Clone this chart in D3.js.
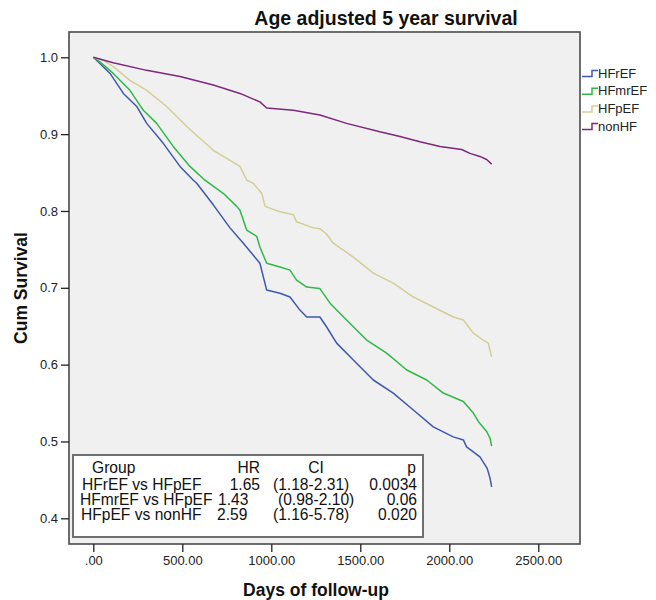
<!DOCTYPE html>
<html>
<head>
<meta charset="utf-8">
<script src="https://cdn.jsdelivr.net/npm/d3@7"></script>
<style>
  html, body { margin: 0; padding: 0; background: #ffffff; }
  svg { display: block; font-family: "Liberation Sans", Arial, sans-serif; }
</style>
</head>
<body>
<svg id="chart" width="656" height="600"></svg>
<script>
// Kaplan-Meier style survival estimates, [day, cumulative survival]
const hfref = [[0,1.0],[37,0.992],[94,0.979],[169,0.953],[244,0.936],[300,0.914],[393,0.888],[487,0.858],[562,0.840],[581,0.836],[674,0.808],[768,0.778],[843,0.758],[936,0.732],[974,0.697],[1049,0.693],[1105,0.688],[1161,0.671],[1199,0.662],[1273,0.662],[1311,0.649],[1367,0.628],[1461,0.606],[1573,0.580],[1685,0.563],[1798,0.541],[1910,0.519],[2022,0.506],[2079,0.502],[2097,0.493],[2172,0.480],[2213,0.465],[2229,0.452],[2238,0.441]];
const hfmref = [[0,1.0],[37,0.994],[112,0.979],[206,0.957],[281,0.931],[356,0.914],[449,0.884],[543,0.858],[627,0.840],[730,0.823],[806,0.806],[824,0.801],[862,0.775],[918,0.767],[936,0.753],[974,0.732],[1049,0.727],[1105,0.723],[1142,0.710],[1199,0.701],[1273,0.699],[1330,0.680],[1423,0.658],[1536,0.632],[1648,0.615],[1761,0.593],[1873,0.580],[1966,0.563],[2079,0.552],[2135,0.537],[2163,0.526],[2210,0.513],[2229,0.504],[2238,0.494]];
const hfpef = [[0,1.0],[56,0.996],[112,0.988],[206,0.970],[300,0.957],[412,0.936],[525,0.910],[674,0.879],[824,0.858],[862,0.840],[899,0.836],[946,0.823],[965,0.806],[1049,0.799],[1124,0.795],[1142,0.786],[1236,0.778],[1273,0.777],[1310,0.770],[1348,0.758],[1461,0.740],[1573,0.719],[1685,0.706],[1798,0.688],[1910,0.675],[2022,0.662],[2079,0.658],[2135,0.641],[2191,0.632],[2219,0.628],[2238,0.610]];
const nonhf = [[0,1.0],[112,0.993],[300,0.983],[487,0.975],[674,0.964],[824,0.953],[936,0.942],[974,0.934],[1124,0.931],[1273,0.925],[1423,0.914],[1610,0.903],[1723,0.897],[1835,0.890],[1948,0.884],[2069,0.880],[2116,0.875],[2172,0.871],[2210,0.867],[2238,0.861]];

const groupNames = ["HFrEF", "HFmrEF", "HFpEF", "nonHF"];
const groupColors = ["#3e58ac", "#2eb848", "#d3ce97", "#7c287d"];

const xTicks = [0, 500, 1000, 1500, 2000, 2500];
const yTicks = [0.4, 0.5, 0.6, 0.7, 0.8, 0.9, 1.0];

// Hazard ratio table
const tableHeader = ["Group", "HR", "CI", "p"];
const tableGroups = ["HFrEF vs HFpEF", "HFmrEF vs HFpEF", "HFpEF vs nonHF"];
const tableHR = ["1.65", "1.43", "2.59"];
const tableCI = ["(1.18-2.31)", "(0.98-2.10)", "(1.16-5.78)"];
const tableP = ["0.0034", "0.06", "0.020"];

const series = [hfref, hfmref, hfpef, nonhf];

const svg = d3.select("#chart");

const frame = { left: 69, top: 32, right: 580, bottom: 544 };
const x = d3.scaleLinear().domain([0, 2500]).range([93.3, 538.3]);
const y = d3.scaleLinear().domain([0.4, 1.0]).range([518.3, 57.3]);

// Title
svg.append("text")
  .attr("x", 386).attr("y", 25)
  .attr("text-anchor", "middle")
  .attr("font-size", 19.5).attr("font-weight", "bold")
  .attr("fill", "#111")
  .text("Age adjusted 5 year survival");

// Plot area
svg.append("rect")
  .attr("x", frame.left).attr("y", frame.top)
  .attr("width", frame.right - frame.left)
  .attr("height", frame.bottom - frame.top)
  .attr("fill", "#f0f0f0")
  .attr("stroke", "#4a4a4a").attr("stroke-width", 1.6);

// Axes
const xAxis = svg.append("g")
  .attr("transform", `translate(0,${frame.bottom})`)
  .call(d3.axisBottom(x).tickValues(xTicks).tickSize(8).tickPadding(4)
    .tickFormat(d => d === 0 ? ".00" : d.toFixed(2)));
xAxis.select(".domain").remove();
xAxis.selectAll("line").attr("stroke", "#222").attr("stroke-width", 1.3);
xAxis.selectAll("text").attr("font-size", 13).attr("fill", "#222")
  .attr("font-family", "'Liberation Sans', Arial, sans-serif");

const yAxis = svg.append("g")
  .attr("transform", `translate(${frame.left},0)`)
  .call(d3.axisLeft(y).tickValues(yTicks).tickSize(8).tickPadding(3)
    .tickFormat(d => d.toFixed(1)));
yAxis.select(".domain").remove();
yAxis.selectAll("line").attr("stroke", "#222").attr("stroke-width", 1.3);
yAxis.selectAll("text").attr("font-size", 13).attr("fill", "#222")
  .attr("font-family", "'Liberation Sans', Arial, sans-serif");

// Axis titles
svg.append("text")
  .attr("x", 316).attr("y", 596)
  .attr("text-anchor", "middle")
  .attr("font-size", 17.5).attr("font-weight", "bold").attr("fill", "#111")
  .text("Days of follow-up");

svg.append("text")
  .attr("transform", "translate(27,288) rotate(-90)")
  .attr("text-anchor", "middle")
  .attr("font-size", 17.5).attr("font-weight", "bold").attr("fill", "#111")
  .text("Cum Survival");

// Survival curves
const line = d3.line().x(d => x(d[0])).y(d => y(d[1]));
svg.append("g").selectAll("path")
  .data(series)
  .join("path")
  .attr("d", line)
  .attr("fill", "none")
  .attr("stroke", (d, i) => groupColors[i])
  .attr("stroke-width", 1.5)
  .attr("stroke-linejoin", "round");

// Legend
const legend = svg.append("g").attr("transform", "translate(582,0)");
groupNames.forEach((name, i) => {
  const cy = 73 + i * 17.7;
  legend.append("path")
    .attr("d", `M0,${cy + 3.5} H10 V${cy - 2.5} H16`)
    .attr("fill", "none")
    .attr("stroke", groupColors[i]).attr("stroke-width", 1.5);
  legend.append("text")
    .attr("x", 16).attr("y", cy + 4.5)
    .attr("font-size", 13).attr("fill", "#222")
    .text(name);
});

// Hazard ratio table
const tbl = svg.append("g");
tbl.append("rect")
  .attr("x", 73).attr("y", 455).attr("width", 350).attr("height", 82)
  .attr("fill", "#ffffff").attr("stroke", "#707070").attr("stroke-width", 2);

const fs = 15.6;
function cell(txt, xPos, yPos, anchor) {
  tbl.append("text")
    .attr("x", xPos).attr("y", yPos)
    .attr("text-anchor", anchor)
    .attr("font-size", fs).attr("fill", "#111")
    .text(txt);
}
cell(tableHeader[0], 92, 473, "start");
cell(tableHeader[1], 260, 473, "end");
cell(tableHeader[2], 316, 473, "middle");
cell(tableHeader[3], 416, 473, "end");

const rowY = [489.5, 504.5, 519.5];
const groupX = [82, 80, 81];
const hrX = [260, 218, 217];
const hrAnchor = ["end", "start", "start"];
const ciX = [273, 278, 273];
tableGroups.forEach((g, i) => {
  cell(g, groupX[i], rowY[i], "start");
  cell(tableHR[i], hrX[i], rowY[i], hrAnchor[i]);
  cell(tableCI[i], ciX[i], rowY[i], "start");
  cell(tableP[i], 417, rowY[i], "end");
});
</script>
</body>
</html>
